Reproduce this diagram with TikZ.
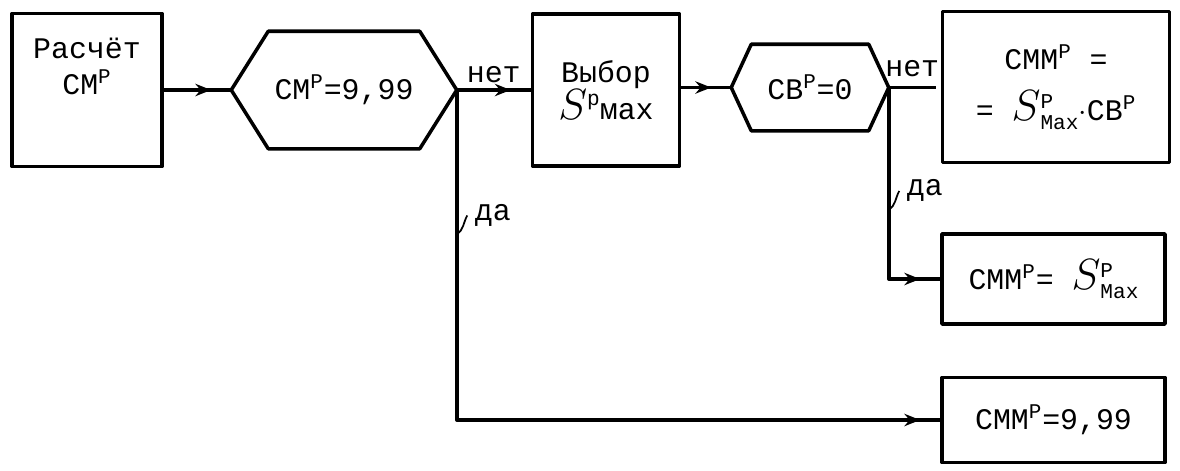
\documentclass[tikz,border=0pt]{standalone}
\usepackage{amsmath}
\usepackage{fontspec}
\setmainfont{Liberation Mono}
\usetikzlibrary{arrows.meta, decorations.markings}
\newcommand{\bigS}{\mbox{\fontsize{25}{25}\selectfont$S$}}
\newcommand{\Smax}[1]{\bigS\raisebox{-5pt}{\fontsize{12}{12}\selectfont\shortstack[l]{#1\\[1pt]Мах}}}

\begin{document}
\begin{tikzpicture}[line width=2pt, line join=round, font=\fontsize{17}{21}\selectfont,
      blk/.style={draw, inner sep=3pt, align=center},
      cond/.style={inner sep=2pt, align=center},
      flow/.style={postaction={decorate}, decoration={markings, mark=at position -0.4cm with {\arrow{Stealth[length=9pt,width=7pt]}}}}]
  \useasboundingbox (0,0) rectangle (23.6,-9.4);
  \node[blk, minimum width=3cm, minimum height=3.06cm] (calc) at (1.74,-1.8) {Расчёт\\СМ$^{\text{Р}}$\\[6pt]};
  \node[cond, minimum width=4.44cm, minimum height=2.28cm] (hexA) at (6.88,-1.8) {СМ$^{\text{Р}}$=9,99};
  \node[blk, minimum width=2.94cm, minimum height=3.04cm] (choose) at (12.12,-1.8) {Выбор\\\bigS\raisebox{8pt}{\fontsize{12}{12}\selectfont р}мах};
  \node[cond, minimum width=3.08cm, minimum height=1.66cm] (hexB) at (16.2,-1.75) {СВ$^{\text{Р}}$=0};
  \node[blk, minimum width=4.54cm, minimum height=3.02cm] (resA) at (21.12,-1.74) {СММ$^{\text{Р}}$ =\\[8pt]= \Smax{Р}$\cdot$СВ$^{\text{Р}}$};
  \node[blk, minimum width=4.46cm, minimum height=1.8cm] (resB) at (21.07,-5.58) {СММ$^{\text{Р}}$= \Smax{Р}};
  \node[blk, minimum width=4.46cm, minimum height=1.7cm] (resC) at (21.07,-8.4) {СММ$^{\text{Р}}$=9,99};
  \foreach \n/\d in {hexA/0.74, hexB/0.4}
    \draw (\n.west) -- ([xshift=\d cm]\n.north west) -- ([xshift=-\d cm]\n.north east) -- (\n.east) -- ([xshift=-\d cm]\n.south east) -- ([xshift=\d cm]\n.south west) -- cycle;
  \draw[flow] (calc.east) -- (hexA.west);
  \draw[flow] (hexA.east) -- node[above] {нет} (choose.west |- hexA.east);
  \draw[flow] (choose.east |- hexB.west) -- (hexB.west);
  \draw (hexB.east) -- node[above=2pt] {нет} ([xshift=-0.1cm]resA.west |- hexB.east);
  \draw[flow] (hexA.east) |- node[pos=0.19, right=6pt] (daA) {да} (resC.west);
  \draw[flow] (hexB.east) |- node[pos=0.27, right=6pt] (daB) {да} (resB.west);
  \draw[line width=1pt] (hexA.east |- daA.south) to[out=30, in=-120] (daA.west);
  \draw[line width=1pt] (hexB.east |- daB.south) to[out=30, in=-120] (daB.west);
\end{tikzpicture}
\end{document}
